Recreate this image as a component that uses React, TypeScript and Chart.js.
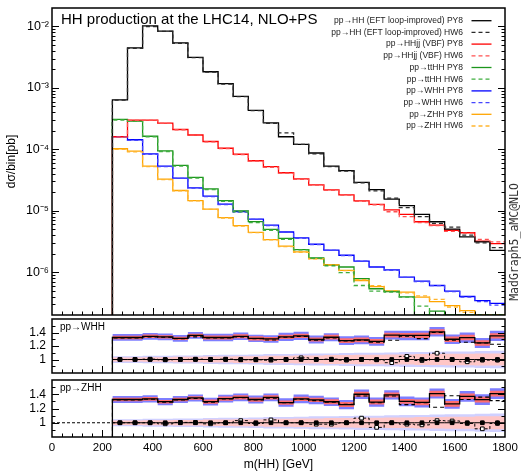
import React, { useEffect, useRef } from 'react';
import { Chart, registerables } from 'chart.js';

Chart.register(...registerables);

// ---------------- categories / axes ----------------
const binLeft = [240, 300, 360, 420, 480, 540, 600, 660, 720, 780, 840, 900, 960, 1020, 1080, 1140, 1200, 1260, 1320, 1380, 1440, 1500, 1560, 1620, 1680, 1740];
const BIN_WIDTH = 60;
const X_MIN = 0;
const X_MAX = 1800;
const X_MAJOR_STEP = 200;
const X_MINOR_STEP = 40;
const xTickValues = [0, 200, 400, 600, 800, 1000, 1200, 1400, 1600, 1800];
const xTickLabels = ['0', '200', '400', '600', '800', '1000', '1200', '1400', '1600', '1800'];
const Y_MIN = 2e-7;
const Y_MAX = 2e-2;
const mainYTickValues = [1e-6, 1e-5, 1e-4, 1e-3, 1e-2];
const mainYTickLabels = ['10⁻⁶', '10⁻⁵', '10⁻⁴', '10⁻³', '10⁻²'];
const R_MIN = 0.8;
const R_MAX = 1.6;
const ratioTickValues = [1, 1.2, 1.4];
const ratioTickLabels = ['1', '1.2', '1.4'];
const ratioMinorTicks = [0.9, 1.1, 1.3, 1.5];
const UPPER_OFFSET = 0.3;

const processNames = ['pp→HH (EFT loop-improved)', 'pp→HHjj (VBF)', 'pp→ttHH', 'pp→WHH', 'pp→ZHH'];
const processColors = ['#000000', '#ff0000', '#1c961c', '#0000ff', '#ffa500'];
const hw6Colors = ['#2a2a2a', '#ff5050', '#3fae3f', '#4646ff', '#ffb52e'];

// ---------------- main panel values (pb / bin) ----------------
const hhPY8 = [6.4e-4, 4.5e-3, 1.02e-2, 8.4e-3, 5.4e-3, 3.15e-3, 1.83e-3, 1.17e-3, 7.3e-4, 4.3e-4, 2.7e-4, 1.6e-4, 1.2e-4, 8.7e-5, 5.3e-5, 4.5e-5, 2.9e-5, 2.2e-5, 1.54e-5, 1.21e-5, 8.7e-6, 6.6e-6, 5.0e-6, 3.75e-6, 3.1e-6, 2.25e-6];
const hhHW6 = [6.3e-4, 4.4e-3, 1.0e-2, 8.3e-3, 5.3e-3, 3.1e-3, 1.8e-3, 1.15e-3, 7.2e-4, 4.25e-4, 2.65e-4, 1.85e-4, 1.2e-4, 8.4e-5, 5.2e-5, 4.4e-5, 2.85e-5, 2.1e-5, 1.6e-5, 1.12e-5, 8.0e-6, 6.2e-6, 5.4e-6, 4.0e-6, 3.0e-6, 2.5e-6];
const vbfPY8 = [1.6e-4, 2.98e-4, 2.98e-4, 2.67e-4, 2.1e-4, 1.71e-4, 1.34e-4, 1.04e-4, 8.3e-5, 6.5e-5, 5.2e-5, 4.15e-5, 3.3e-5, 2.64e-5, 2.18e-5, 1.81e-5, 1.44e-5, 1.27e-5, 1.03e-5, 8.7e-6, 6.6e-6, 5.8e-6, 4.8e-6, 4.37e-6, 3.2e-6, 2.9e-6];
const vbfHW6 = [1.58e-4, 2.95e-4, 2.95e-4, 2.65e-4, 2.08e-4, 1.7e-4, 1.32e-4, 1.03e-4, 8.2e-5, 6.4e-5, 5.1e-5, 4.1e-5, 3.25e-5, 2.6e-5, 2.15e-5, 1.8e-5, 1.42e-5, 1.25e-5, 9.6e-6, 8.0e-6, 6.4e-6, 5.7e-6, 4.6e-6, 4.3e-6, 3.4e-6, 3.1e-6];
const tthhPY8 = [3.07e-4, 2.88e-4, 1.63e-4, 9.4e-5, 5.45e-5, 3.5e-5, 2.27e-5, 1.46e-5, 9.96e-6, 6.65e-6, 4.95e-6, 3.53e-6, 2.33e-6, 1.71e-6, 1.29e-6, 1.21e-6, 7.8e-7, 5.35e-7, 4.83e-7, 3.95e-7, 0, 2.31e-7, 0, 0, 0, 0];
const tthhHW6 = [3.0e-4, 2.85e-4, 1.6e-4, 9.2e-5, 5.3e-5, 3.4e-5, 2.2e-5, 1.42e-5, 9.6e-6, 6.4e-6, 4.8e-6, 3.4e-6, 2.3e-6, 1.68e-6, 1.26e-6, 9.8e-7, 6.05e-7, 4.9e-7, 4.7e-7, 3.9e-7, 2.8e-7, 0, 0, 0, 0, 0];
const whhPY8 = [1.61e-4, 1.43e-4, 8.4e-5, 5.3e-5, 3.4e-5, 2.36e-5, 1.72e-5, 1.28e-5, 9.7e-6, 7.3e-6, 5.8e-6, 4.5e-6, 3.6e-6, 2.84e-6, 2.27e-6, 1.88e-6, 1.51e-6, 1.21e-6, 1.09e-6, 8.3e-7, 7.1e-7, 6.05e-7, 4.9e-7, 4.0e-7, 3.44e-7, 3.1e-7];
const whhHW6 = [1.58e-4, 1.4e-4, 8.3e-5, 5.2e-5, 3.35e-5, 2.33e-5, 1.7e-5, 1.26e-5, 9.5e-6, 7.2e-6, 5.7e-6, 4.45e-6, 3.55e-6, 2.8e-6, 2.25e-6, 1.85e-6, 1.5e-6, 1.2e-6, 1.07e-6, 8.2e-7, 7.0e-7, 6.0e-7, 4.8e-7, 3.9e-7, 3.3e-7, 2.9e-7];
const zhhPY8 = [1.02e-4, 9.3e-5, 5.3e-5, 3.27e-5, 2.13e-5, 1.46e-5, 1.06e-5, 7.7e-6, 5.7e-6, 4.43e-6, 3.38e-6, 2.64e-6, 2.13e-6, 1.66e-6, 1.32e-6, 1.07e-6, 7.3e-7, 5.8e-7, 4.9e-7, 4.7e-7, 3.9e-7, 3.3e-7, 2.85e-7, 2.35e-7, 0, 0];
const zhhHW6 = [1.0e-4, 9.1e-5, 5.2e-5, 3.2e-5, 2.1e-5, 1.44e-5, 1.05e-5, 7.6e-6, 5.6e-6, 4.4e-6, 3.35e-6, 2.6e-6, 2.1e-6, 1.64e-6, 1.3e-6, 1.06e-6, 7.5e-7, 6.0e-7, 5.0e-7, 4.6e-7, 4.1e-7, 3.6e-7, 2.7e-7, 2.2e-7, 0, 0];

// ---------------- ratio panel values ----------------
const whhUpPY8 = [1.326, 1.326, 1.344, 1.335, 1.313, 1.357, 1.326, 1.326, 1.344, 1.313, 1.305, 1.335, 1.35, 1.296, 1.33, 1.28, 1.29, 1.27, 1.36, 1.357, 1.357, 1.41, 1.3, 1.325, 1.245, 1.35];
const whhUpHW6 = [1.32, 1.32, 1.335, 1.33, 1.31, 1.335, 1.32, 1.32, 1.335, 1.31, 1.29, 1.33, 1.34, 1.285, 1.32, 1.275, 1.285, 1.257, 1.285, 1.345, 1.31, 1.4, 1.285, 1.255, 1.245, 1.226];
const whhLowPY8 = [1, 1, 1, 1, 1, 1, 1, 1, 1, 1, 1, 1, 1, 1, 1, 1, 1, 1, 1, 1, 1, 1, 1, 1, 1, 1];
const whhLowHW6 = [1.0, 1.0, 1.005, 0.995, 1.0, 1.005, 1.0, 1.005, 0.995, 0.995, 0.99, 1.0, 1.025, 1.0, 1.005, 0.99, 1.0, 0.995, 0.953, 1.046, 0.985, 1.093, 1.0, 0.966, 0.99, 0.99];
const zhhUpPY8 = [1.326, 1.326, 1.335, 1.296, 1.326, 1.348, 1.296, 1.339, 1.357, 1.326, 1.357, 1.283, 1.335, 1.32, 1.295, 1.255, 1.4, 1.29, 1.39, 1.3, 1.285, 1.41, 1.265, 1.37, 1.325, 1.41];
const zhhUpHW6 = [1.32, 1.32, 1.33, 1.29, 1.32, 1.34, 1.29, 1.335, 1.35, 1.32, 1.345, 1.28, 1.33, 1.31, 1.29, 1.26, 1.375, 1.28, 1.375, 1.255, 1.28, 1.217, 1.38, 1.326, 1.36, 1.31];
const zhhLowPY8 = [1, 1, 1, 1, 1, 1, 1, 1, 1, 1, 1, 1, 1, 1, 1, 1, 1, 1, 1, 1, 1, 1, 1, 1, 1, 1];
const zhhLowHW6 = [1.0, 1.0, 1.0, 0.985, 1.005, 1.005, 0.985, 1.0, 1.03, 0.99, 1.04, 1.0, 1.0, 0.98, 0.98, 1.0, 1.065, 0.935, 1.0, 0.98, 0.97, 1.03, 1.025, 0.99, 0.915, 0.99];
const zhhLowHW6BelowThreshold = 1;

const scaleBand = [0.025, 0.025, 0.025, 0.025, 0.025, 0.025, 0.03, 0.03, 0.03, 0.03, 0.03, 0.03, 0.03, 0.03, 0.035, 0.035, 0.035, 0.035, 0.035, 0.035, 0.04, 0.04, 0.04, 0.04, 0.04, 0.04];
const pdfBand = [0.05, 0.05, 0.05, 0.05, 0.05, 0.05, 0.055, 0.055, 0.055, 0.055, 0.055, 0.06, 0.06, 0.06, 0.06, 0.065, 0.065, 0.065, 0.065, 0.07, 0.07, 0.07, 0.07, 0.075, 0.075, 0.075];
const lowScaleBand = [0.03, 0.03, 0.035, 0.035, 0.04, 0.04, 0.045, 0.045, 0.05, 0.05, 0.055, 0.055, 0.06, 0.06, 0.065, 0.065, 0.07, 0.07, 0.075, 0.075, 0.08, 0.08, 0.085, 0.085, 0.09, 0.09];
const lowPdfBand = [0.05, 0.05, 0.055, 0.055, 0.06, 0.06, 0.065, 0.07, 0.07, 0.075, 0.08, 0.08, 0.085, 0.09, 0.09, 0.095, 0.1, 0.1, 0.105, 0.11, 0.11, 0.115, 0.12, 0.12, 0.125, 0.13];
const statErr = [0.004, 0.004, 0.005, 0.005, 0.006, 0.006, 0.007, 0.008, 0.009, 0.01, 0.011, 0.012, 0.013, 0.014, 0.015, 0.016, 0.017, 0.018, 0.02, 0.021, 0.022, 0.024, 0.025, 0.027, 0.028, 0.03];

// ---------------- helpers ----------------
const FONT = "'Liberation Sans', Arial, Helvetica, sans-serif";

function stepData(vals: number[], floor?: number, leadY?: number, leadX?: number) {
  const f = (v: number) => (floor !== undefined && !(v > 0) ? floor : v);
  const pts: { x: number; y: number }[] = [];
  if (leadY !== undefined) pts.push({ x: leadX !== undefined ? leadX : binLeft[0], y: f(leadY) });
  vals.forEach((v, i) => pts.push({ x: binLeft[i], y: f(v) }));
  pts.push({ x: binLeft[binLeft.length - 1] + BIN_WIDTH, y: f(vals[vals.length - 1]) });
  return pts;
}

function centerData(vals: number[]) {
  return vals.map((v, i) => ({ x: binLeft[i] + BIN_WIDTH / 2, y: v }));
}

function errData(vals: number[], err: number[]) {
  const pts: any[] = [];
  vals.forEach((v, i) => {
    const x = binLeft[i] + BIN_WIDTH / 2;
    pts.push({ x, y: v - err[i] }, { x, y: v + err[i] }, { x, y: null });
  });
  return pts;
}

function framePlugin(id: string, yTicks: Array<[number, boolean]>, extra?: (chart: any, ctx: CanvasRenderingContext2D, a: any) => void) {
  return {
    id,
    afterDatasetsDraw(chart: any) {
      const { ctx, chartArea: a } = chart;
      const xs = chart.scales.x;
      const ys = chart.scales.y;
      ctx.save();
      ctx.strokeStyle = '#000';
      ctx.lineWidth = 1;
      ctx.setLineDash([]);
      ctx.beginPath();
      for (let v = X_MIN + X_MINOR_STEP; v < X_MAX; v += X_MINOR_STEP) {
        const px = Math.round(xs.getPixelForValue(v)) + 0.5;
        const len = v % X_MAJOR_STEP === 0 ? 7 : 3.5;
        ctx.moveTo(px, a.bottom);
        ctx.lineTo(px, a.bottom - len);
      }
      for (const [v, major] of yTicks) {
        const py = Math.round(ys.getPixelForValue(v)) + 0.5;
        const len = major ? 7 : 3.5;
        ctx.moveTo(a.left, py);
        ctx.lineTo(a.left + len, py);
        ctx.moveTo(a.right, py);
        ctx.lineTo(a.right - len, py);
      }
      ctx.stroke();
      ctx.lineWidth = 1.5;
      ctx.strokeRect(a.left, a.top, a.right - a.left, a.bottom - a.top);
      if (extra) extra(chart, ctx, a);
      ctx.restore();
    },
  };
}

const fixY = (s: any) => {
  s.width = 52;
  s.paddingTop = 0;
  s.paddingBottom = 0;
};

// ---------------- main chart ----------------
function mainConfig(): any {
  const series = [
    [hhPY8, hhHW6],
    [vbfPY8, vbfHW6],
    [tthhPY8, tthhHW6],
    [whhPY8, whhHW6],
    [zhhPY8, zhhHW6],
  ];
  const datasets: any[] = [];
  series.forEach(([py8, hw6], p) => {
    datasets.push({
      label: `${processNames[p]} PY8`,
      data: stepData(py8, Y_MIN, 0),
      borderColor: processColors[p],
      borderWidth: 1.3,
      order: 1,
    });
    datasets.push({
      label: `${processNames[p]} HW6`,
      data: stepData(hw6, Y_MIN, 0),
      borderColor: hw6Colors[p],
      borderWidth: 1.3,
      borderDash: [4, 3],
      order: 0,
    });
  });
  datasets.forEach((d) => Object.assign(d, { stepped: true, pointRadius: 0, fill: false, backgroundColor: 'transparent' }));

  const yTicks: Array<[number, boolean]> = [];
  for (let e = -7; e <= -2; e++) {
    for (let k = 1; k <= 9; k++) {
      const v = k * Math.pow(10, e);
      if (v > Y_MIN * 1.001 && v < Y_MAX * 0.999) yTicks.push([v, k === 1]);
    }
  }

  const extra = (chart: any, ctx: CanvasRenderingContext2D, a: any) => {
    ctx.fillStyle = '#000';
    ctx.textBaseline = 'middle';
    ctx.textAlign = 'left';
    ctx.font = `15px ${FONT}`;
    ctx.fillText('HH production at the LHC14, NLO+PS', a.left + 9, a.top + 12);
    ctx.font = `8.5px ${FONT}`;
    chart.data.datasets.forEach((ds: any, i: number) => {
      const y = a.top + 12.7 + i * 11.7;
      ctx.textAlign = 'right';
      ctx.fillStyle = '#222';
      ctx.fillText(ds.label, a.right - 42, y);
      ctx.strokeStyle = ds.borderColor;
      ctx.lineWidth = 1.3;
      ctx.setLineDash(ds.borderDash || []);
      ctx.beginPath();
      ctx.moveTo(a.right - 33.5, y);
      ctx.lineTo(a.right - 13.5, y);
      ctx.stroke();
    });
    ctx.setLineDash([]);
    ctx.save();
    ctx.translate(a.right + 10, 242);
    ctx.rotate(-Math.PI / 2);
    ctx.font = "11.5px 'DejaVu Sans Mono', 'Liberation Mono', monospace";
    ctx.textAlign = 'center';
    ctx.textBaseline = 'middle';
    ctx.fillStyle = '#333';
    ctx.fillText('MadGraph5_aMC@NLO', 0, 0);
    ctx.restore();
  };

  return {
    type: 'line',
    data: { datasets },
    options: {
      animation: false,
      responsive: false,
      events: [],
      layout: { padding: { left: 0, right: 18, top: 8, bottom: 2 } },
      plugins: { legend: { display: false }, tooltip: { enabled: false } },
      scales: {
        x: { type: 'linear', min: X_MIN, max: X_MAX, display: false },
        y: {
          type: 'logarithmic',
          min: Y_MIN,
          max: Y_MAX,
          afterBuildTicks: (s: any) => {
            s.ticks = mainYTickValues.map((v) => ({ value: v }));
          },
          afterFit: fixY,
          grid: { display: false, drawTicks: false },
          border: { display: false },
          ticks: {
            padding: 3,
            color: '#000',
            font: { size: 12.5, family: FONT },
            callback: (_v: any, i: number) => mainYTickLabels[i],
          },
          title: { display: true, text: 'dσ/bin[pb]', color: '#000', font: { size: 12, family: FONT } },
        },
      },
    },
    plugins: [framePlugin('frameMain', yTicks, extra)],
  };
}

// ---------------- ratio charts ----------------
function ratioConfig(label: string, upPY8: number[], upHW6: number[], lowPY8: number[], lowHW6: number[], lowLead: number | undefined, showX: boolean): any {
  const ds: any[] = [];
  const base = { type: 'line', stepped: true, pointRadius: 0, spanGaps: false };
  const band = (center: number[], half: number[], color: string, order: number) => {
    ds.push({ ...base, data: stepData(center.map((c, i) => c - half[i])), borderColor: 'rgba(0,0,0,0)', borderWidth: 0, fill: false, order });
    ds.push({ ...base, data: stepData(center.map((c, i) => c + half[i])), borderColor: 'rgba(0,0,0,0)', borderWidth: 0, fill: '-1', backgroundColor: color, order });
  };
  band(lowPY8, lowPdfBand, 'rgb(208,208,255)', 10);
  band(lowPY8, lowScaleBand, 'rgb(255,198,198)', 9);
  band(upPY8, pdfBand, 'rgb(126,126,255)', 8);
  band(upPY8, scaleBand, 'rgb(255,110,110)', 7);
  ds.push({ ...base, data: stepData(lowPY8), borderColor: '#000', borderWidth: 1, fill: false, order: 4 });
  ds.push({
    ...base,
    data: lowLead !== undefined ? stepData(lowHW6, undefined, lowLead, X_MIN) : stepData(lowHW6),
    borderColor: '#000',
    borderWidth: 1,
    borderDash: [3, 2],
    fill: false,
    order: 3,
  });
  ds.push({ ...base, stepped: false, data: errData(lowPY8, statErr), borderColor: '#000', borderWidth: 1, fill: false, order: 2 });
  ds.push({ ...base, stepped: false, data: errData(lowHW6, statErr), borderColor: '#000', borderWidth: 1, borderDash: [2, 1], fill: false, order: 2 });
  ds.push({ ...base, stepped: false, showLine: false, data: centerData(lowHW6), pointStyle: 'rect', pointRadius: 2.6, pointBackgroundColor: '#fff', pointBorderColor: '#000', pointBorderWidth: 1, order: 1 });
  ds.push({ ...base, stepped: false, showLine: false, data: centerData(lowPY8), pointStyle: 'rect', pointRadius: 2.6, pointBackgroundColor: '#000', pointBorderColor: '#000', pointBorderWidth: 1, order: 0 });
  ds.push({ ...base, data: stepData(upPY8, undefined, UPPER_OFFSET), borderColor: '#000', borderWidth: 1.3, fill: false, order: 0 });
  ds.push({ ...base, data: stepData(upHW6, undefined, UPPER_OFFSET), borderColor: '#000', borderWidth: 1.1, borderDash: [4, 3], fill: false, order: 0 });

  const yTicks: Array<[number, boolean]> = [
    ...ratioTickValues.map((v) => [v, true] as [number, boolean]),
    ...ratioMinorTicks.map((v) => [v, false] as [number, boolean]),
  ];
  const extra = (_c: any, ctx: CanvasRenderingContext2D, a: any) => {
    ctx.fillStyle = '#000';
    ctx.font = `10px ${FONT}`;
    ctx.textAlign = 'left';
    ctx.textBaseline = 'middle';
    ctx.fillText(label, a.left + 8, a.top + 8);
  };

  return {
    type: 'line',
    data: { datasets: ds },
    options: {
      animation: false,
      responsive: false,
      events: [],
      layout: { padding: { left: 0, right: 18, top: 1, bottom: showX ? 0 : 2 } },
      plugins: { legend: { display: false }, tooltip: { enabled: false } },
      scales: {
        x: showX
          ? {
              type: 'linear',
              min: X_MIN,
              max: X_MAX,
              afterBuildTicks: (s: any) => {
                s.ticks = xTickValues.map((v) => ({ value: v }));
              },
              afterFit: (s: any) => {
                s.height = 35;
                s.paddingLeft = 0;
                s.paddingRight = 0;
              },
              grid: { display: false, drawTicks: false },
              border: { display: false },
              ticks: {
                maxRotation: 0,
                autoSkip: false,
                padding: 4,
                color: '#000',
                font: { size: 11.5, family: FONT },
                callback: (_v: any, i: number) => xTickLabels[i],
              },
              title: { display: true, text: 'm(HH) [GeV]', color: '#000', font: { size: 12, family: FONT }, padding: { top: 0, bottom: 0 } },
            }
          : { type: 'linear', min: X_MIN, max: X_MAX, display: false },
        y: {
          type: 'linear',
          min: R_MIN,
          max: R_MAX,
          afterBuildTicks: (s: any) => {
            s.ticks = ratioTickValues.map((v) => ({ value: v }));
          },
          afterFit: fixY,
          grid: { display: false, drawTicks: false },
          border: { display: false },
          ticks: {
            padding: 6,
            color: '#000',
            font: { size: 12, family: FONT },
            callback: (_v: any, i: number) => ratioTickLabels[i],
          },
        },
      },
    },
    plugins: [framePlugin('frame' + label, yTicks, extra)],
  };
}

export default function App() {
  const aRef = useRef<HTMLCanvasElement>(null);
  const bRef = useRef<HTMLCanvasElement>(null);
  const cRef = useRef<HTMLCanvasElement>(null);

  useEffect(() => {
    Chart.defaults.font.family = FONT;
    Chart.defaults.color = '#000';
    const charts = [
      new Chart(aRef.current as HTMLCanvasElement, mainConfig()),
      new Chart(bRef.current as HTMLCanvasElement, ratioConfig(processNames[3], whhUpPY8, whhUpHW6, whhLowPY8, whhLowHW6, undefined, false)),
      new Chart(cRef.current as HTMLCanvasElement, ratioConfig(processNames[4], zhhUpPY8, zhhUpHW6, zhhLowPY8, zhhLowHW6, zhhLowHW6BelowThreshold, true)),
    ];
    return () => charts.forEach((c) => c.destroy());
  }, []);

  const cs = (top: number, h: number): React.CSSProperties => ({ position: 'absolute', left: 0, top, width: 523, height: h, display: 'block' });

  return (
    <div style={{ position: 'absolute', left: 0, top: 0, width: 523, height: 472, background: '#fff', overflow: 'hidden' }}>
      <canvas ref={aRef} width={523} height={317} style={cs(0, 317)} />
      <canvas ref={bRef} width={523} height={64} style={cs(314, 64)} />
      <canvas ref={cRef} width={523} height={97} style={cs(375, 97)} />
    </div>
  );
}
